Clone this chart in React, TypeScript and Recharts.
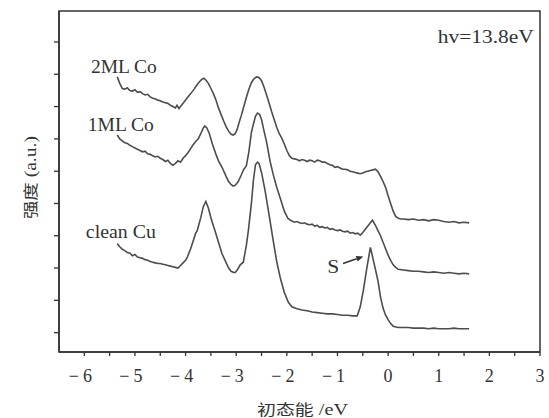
import React from 'react';
import { LineChart, Line, XAxis, YAxis, ReferenceDot, ReferenceLine, ReferenceArea } from 'recharts';

// ---- data (x: initial-state energy in eV, y: intensity in a.u.) ----
const ml2X = [-5.35,-5.30,-5.25,-5.20,-5.15,-5.10,-5.05,-5.00,-4.95,-4.90,-4.85,-4.80,-4.75,-4.70,-4.65,-4.60,-4.55,-4.50,-4.45,-4.40,-4.35,-4.30,-4.25,-4.20,-4.17,-4.13,-4.08,-4.03,-3.98,-3.93,-3.88,-3.83,-3.78,-3.73,-3.68,-3.64,-3.60,-3.55,-3.50,-3.45,-3.40,-3.35,-3.30,-3.25,-3.20,-3.15,-3.10,-3.06,-3.02,-2.98,-2.94,-2.90,-2.85,-2.80,-2.75,-2.70,-2.65,-2.60,-2.55,-2.50,-2.45,-2.40,-2.35,-2.30,-2.25,-2.20,-2.15,-2.10,-2.05,-2.00,-1.95,-1.90,-1.85,-1.80,-1.75,-1.70,-1.65,-1.60,-1.55,-1.50,-1.45,-1.40,-1.35,-1.30,-1.25,-1.20,-1.15,-1.10,-1.05,-1.00,-0.95,-0.90,-0.85,-0.80,-0.75,-0.70,-0.65,-0.60,-0.55,-0.50,-0.45,-0.40,-0.35,-0.30,-0.25,-0.20,-0.15,-0.10,-0.05,0.00,0.05,0.10,0.15,0.20,0.25,0.30,0.40,0.50,0.60,0.70,0.80,0.90,1.00,1.10,1.20,1.30,1.40,1.50,1.60];
const ml2Y = [3.96,3.86,3.78,3.77,3.79,3.75,3.74,3.76,3.72,3.73,3.70,3.68,3.69,3.65,3.63,3.62,3.60,3.59,3.57,3.56,3.55,3.52,3.50,3.48,3.52,3.47,3.52,3.57,3.62,3.67,3.72,3.77,3.83,3.88,3.92,3.94,3.91,3.86,3.78,3.70,3.60,3.48,3.38,3.28,3.19,3.12,3.07,3.06,3.08,3.15,3.26,3.36,3.50,3.64,3.77,3.87,3.93,3.96,3.95,3.90,3.80,3.68,3.55,3.42,3.30,3.18,3.08,3.01,2.92,2.82,2.74,2.70,2.69,2.68,2.66,2.68,2.67,2.65,2.67,2.66,2.64,2.67,2.66,2.64,2.64,2.62,2.60,2.59,2.56,2.57,2.55,2.53,2.53,2.52,2.50,2.49,2.48,2.47,2.46,2.47,2.49,2.50,2.51,2.52,2.53,2.49,2.42,2.34,2.25,2.12,2.00,1.88,1.80,1.77,1.76,1.76,1.75,1.76,1.74,1.75,1.73,1.75,1.74,1.72,1.71,1.72,1.70,1.71,1.70];

const ml1X = [-5.35,-5.30,-5.25,-5.20,-5.15,-5.10,-5.05,-5.00,-4.95,-4.90,-4.85,-4.80,-4.75,-4.70,-4.65,-4.60,-4.55,-4.50,-4.45,-4.40,-4.35,-4.30,-4.25,-4.20,-4.15,-4.10,-4.05,-4.00,-3.95,-3.90,-3.85,-3.80,-3.75,-3.70,-3.65,-3.62,-3.58,-3.53,-3.47,-3.40,-3.35,-3.28,-3.20,-3.15,-3.10,-3.06,-3.02,-2.96,-2.90,-2.85,-2.80,-2.75,-2.70,-2.66,-2.62,-2.58,-2.54,-2.50,-2.45,-2.40,-2.33,-2.27,-2.20,-2.13,-2.05,-1.98,-1.93,-1.85,-1.80,-1.75,-1.70,-1.65,-1.60,-1.55,-1.50,-1.45,-1.40,-1.35,-1.30,-1.25,-1.20,-1.15,-1.10,-1.05,-1.00,-0.95,-0.90,-0.85,-0.80,-0.75,-0.70,-0.65,-0.60,-0.55,-0.50,-0.45,-0.40,-0.35,-0.31,-0.25,-0.20,-0.15,-0.10,-0.05,0.00,0.05,0.10,0.15,0.20,0.30,0.40,0.50,0.60,0.70,0.80,0.90,1.00,1.10,1.20,1.30,1.40,1.50,1.60];
const ml1Y = [3.06,3.00,2.97,2.94,2.93,2.90,2.88,2.86,2.84,2.82,2.80,2.81,2.77,2.76,2.74,2.72,2.73,2.70,2.68,2.65,2.67,2.62,2.59,2.62,2.66,2.64,2.70,2.74,2.79,2.85,2.91,2.96,3.00,3.08,3.17,3.20,3.17,3.08,2.92,2.76,2.66,2.56,2.42,2.34,2.29,2.27,2.28,2.34,2.44,2.53,2.58,2.80,3.10,3.23,3.35,3.40,3.38,3.30,3.12,2.95,2.65,2.45,2.25,2.08,1.88,1.77,1.74,1.71,1.72,1.70,1.69,1.70,1.68,1.67,1.68,1.65,1.66,1.63,1.64,1.62,1.63,1.60,1.61,1.59,1.58,1.59,1.57,1.56,1.57,1.54,1.55,1.53,1.54,1.51,1.55,1.60,1.65,1.70,1.74,1.66,1.58,1.50,1.40,1.30,1.20,1.12,1.05,1.01,0.98,0.97,0.96,0.95,0.95,0.94,0.93,0.94,0.93,0.92,0.93,0.92,0.91,0.92,0.91];

const cuX = [-5.35,-5.30,-5.25,-5.20,-5.15,-5.10,-5.05,-5.00,-4.95,-4.90,-4.85,-4.80,-4.75,-4.70,-4.65,-4.60,-4.55,-4.50,-4.45,-4.40,-4.35,-4.30,-4.25,-4.20,-4.15,-4.10,-4.05,-4.00,-3.97,-3.90,-3.85,-3.80,-3.77,-3.70,-3.65,-3.60,-3.55,-3.50,-3.45,-3.42,-3.35,-3.28,-3.22,-3.15,-3.10,-3.05,-3.02,-2.98,-2.92,-2.86,-2.80,-2.76,-2.70,-2.66,-2.62,-2.58,-2.55,-2.50,-2.43,-2.35,-2.27,-2.20,-2.13,-2.05,-1.97,-1.90,-1.80,-1.70,-1.60,-1.50,-1.40,-1.30,-1.20,-1.10,-1.00,-0.90,-0.80,-0.70,-0.61,-0.55,-0.49,-0.42,-0.35,-0.30,-0.25,-0.20,-0.15,-0.10,-0.05,0.00,0.05,0.10,0.20,0.30,0.40,0.50,0.60,0.70,0.80,0.90,1.00,1.10,1.20,1.30,1.40,1.50,1.60];
const cuY = [1.38,1.33,1.29,1.27,1.24,1.23,1.19,1.21,1.17,1.16,1.15,1.13,1.12,1.10,1.09,1.08,1.07,1.07,1.06,1.05,1.04,1.03,1.02,1.01,1.00,1.04,1.08,1.12,1.16,1.30,1.42,1.54,1.58,1.78,1.95,2.03,1.93,1.78,1.65,1.58,1.40,1.22,1.12,1.00,0.95,0.93,0.93,0.97,1.05,1.09,1.35,1.58,2.00,2.36,2.60,2.64,2.62,2.48,2.20,1.82,1.43,1.10,0.85,0.62,0.47,0.40,0.37,0.35,0.34,0.32,0.31,0.30,0.29,0.29,0.28,0.27,0.27,0.26,0.26,0.40,0.65,1.00,1.32,1.15,0.98,0.80,0.55,0.38,0.27,0.20,0.14,0.10,0.08,0.08,0.08,0.07,0.07,0.07,0.06,0.07,0.06,0.06,0.06,0.07,0.06,0.06,0.06];

const xTicks = [-6,-5.5,-5,-4.5,-4,-3.5,-3,-2.5,-2,-1.5,-1,-0.5,0,0.5,1,1.5,2,2.5,3];
const yTicks = [0,0.5,1,1.5,2,2.5,3,3.5,4,4.5];
const xDomain = [-6.5, 3];
const yDomain = [-0.3, 4.98];

const seriesLabels = ['2ML Co', '1ML Co', 'clean Cu'];
const labelPos = [
  { x: -5.87, y: 4.02, len: 66 },
  { x: -5.93, y: 3.12, len: 66 },
  { x: -5.97, y: 1.46, len: 70 },
];
const photonText = 'hv=13.8eV';
const photonPos = { x: 0.98, y: 4.49, len: 96 };
const sText = 'S';
const sPos = { x: -1.085, y: 0.93 };
const sArrow = [{ x: -0.89, y: 1.07 }, { x: -0.49, y: 1.18 }];
const xTitleCJK = '初态能';
const xTitleUnit = ' /eV';
const yTitleCJK = '强度';
const yTitleUnit = ' (a.u.)';

const toData = (xs: number[], ys: number[]) => xs.map((x, i) => ({ x, y: ys[i] }));
const ml2Data = toData(ml2X, ml2Y);
const ml1Data = toData(ml1X, ml1Y);
const cuData = toData(cuX, cuY);

const INK = '#333';
const CURVE = '#4d4d4d';
const SERIF = '"Liberation Serif", "Times New Roman", serif';
const CJK = '"Noto Sans CJK SC", sans-serif';

const XTick = (props: any) => {
  const { x, y, payload } = props;
  const v = payload.value;
  if (!Number.isInteger(v)) return <g />;
  if (v < 0) {
    return (
      <text x={x - 4} y={y} dy={24} textAnchor="middle" fontFamily={SERIF} fontSize={18} fill={INK}>
        <tspan>−</tspan>
        <tspan dx={4}>{String(Math.abs(v))}</tspan>
      </text>
    );
  }
  return (
    <text x={x} y={y} dy={24} textAnchor="middle" fontFamily={SERIF} fontSize={18} fill={INK}>
      {String(v)}
    </text>
  );
};

const EmptyTick = () => <g />;

const textShape = (txt: string, len: number, anchor: string = 'start') => (p: any) => (
  <text
    x={p.cx}
    y={p.cy}
    textAnchor={anchor}
    fontFamily={SERIF}
    fontSize={18}
    fill={INK}
    textLength={len}
    lengthAdjust="spacingAndGlyphs"
  >
    {txt}
  </text>
);

const ArrowShape = (p: any) => {
  const { x1, y1, x2, y2 } = p;
  const ang = Math.atan2(y2 - y1, x2 - x1);
  const L = 7;
  const W = 3;
  const bx = x2 - L * Math.cos(ang);
  const by = y2 - L * Math.sin(ang);
  const nx = -Math.sin(ang) * W;
  const ny = Math.cos(ang) * W;
  return (
    <g>
      <line x1={x1} y1={y1} x2={bx} y2={by} stroke={INK} strokeWidth={1.5} />
      <polygon points={`${x2},${y2} ${bx + nx},${by + ny} ${bx - nx},${by - ny}`} fill={INK} />
    </g>
  );
};

const XTitle = (p: any) => {
  const vb = p.viewBox;
  return (
    <text
      x={vb.x + vb.width / 2 + 3}
      y={vb.y + vb.height - 3}
      textAnchor="middle"
      fontSize={15}
      fill={INK}
      textLength={91}
      lengthAdjust="spacingAndGlyphs"
    >
      <tspan fontFamily={CJK}>{xTitleCJK}</tspan>
      <tspan fontFamily={SERIF} fontSize={16}>{xTitleUnit}</tspan>
    </text>
  );
};

const YTitle = (p: any) => {
  const vb = p.viewBox;
  const cx = vb.x + 36;
  const cy = vb.y + vb.height / 2 - 4;
  return (
    <text
      x={cx}
      y={cy}
      textAnchor="middle"
      fontSize={15}
      fill={INK}
      transform={`rotate(-90, ${cx}, ${cy})`}
      textLength={83}
      lengthAdjust="spacingAndGlyphs"
    >
      <tspan fontFamily={CJK}>{yTitleCJK}</tspan>
      <tspan fontFamily={SERIF} fontSize={16}>{yTitleUnit}</tspan>
    </text>
  );
};

export default function App() {
  return (
    <div style={{ position: 'absolute', left: 0, top: 0, width: 549, height: 418, background: '#fff' }}>
      <LineChart width={549} height={418} margin={{ top: 11, right: 9, left: 0, bottom: 0 }}>
        <XAxis
          xAxisId="main"
          dataKey="x"
          type="number"
          domain={xDomain}
          ticks={xTicks}
          allowDataOverflow
          height={66}
          tickSize={4}
          tick={<XTick />}
          axisLine={{ stroke: INK, strokeWidth: 1.5 }}
          tickLine={{ stroke: INK, strokeWidth: 1.3 }}
          label={<XTitle />}
        />
        <YAxis
          yAxisId="main"
          type="number"
          domain={yDomain}
          ticks={yTicks}
          allowDataOverflow
          width={59}
          tickSize={5}
          tick={<EmptyTick />}
          axisLine={{ stroke: INK, strokeWidth: 1.5 }}
          tickLine={{ stroke: INK, strokeWidth: 1.3 }}
          label={<YTitle />}
        />
        <ReferenceArea
          xAxisId="main"
          yAxisId="main"
          x1={xDomain[0]}
          x2={xDomain[1]}
          y1={yDomain[0]}
          y2={yDomain[1]}
          fill="none"
          fillOpacity={0}
          stroke={INK}
          strokeWidth={1.5}
          ifOverflow="visible"
        />
        <Line xAxisId="main" yAxisId="main" data={ml2Data} dataKey="y" type="linear" dot={false} stroke={CURVE} strokeWidth={1.6} isAnimationActive={false} />
        <Line xAxisId="main" yAxisId="main" data={ml1Data} dataKey="y" type="linear" dot={false} stroke={CURVE} strokeWidth={1.6} isAnimationActive={false} />
        <Line xAxisId="main" yAxisId="main" data={cuData} dataKey="y" type="linear" dot={false} stroke={CURVE} strokeWidth={1.6} isAnimationActive={false} />
        {seriesLabels.map((s, i) => (
          <ReferenceDot
            key={s}
            xAxisId="main"
            yAxisId="main"
            x={labelPos[i].x}
            y={labelPos[i].y}
            r={0}
            shape={textShape(s, labelPos[i].len)}
          />
        ))}
        <ReferenceDot xAxisId="main" yAxisId="main" x={photonPos.x} y={photonPos.y} r={0} shape={textShape(photonText, photonPos.len)} />
        <ReferenceDot xAxisId="main" yAxisId="main" x={sPos.x} y={sPos.y} r={0} shape={textShape(sText, 12, 'middle')} />
        <ReferenceLine xAxisId="main" yAxisId="main" segment={sArrow} shape={ArrowShape} />
      </LineChart>
    </div>
  );
}
